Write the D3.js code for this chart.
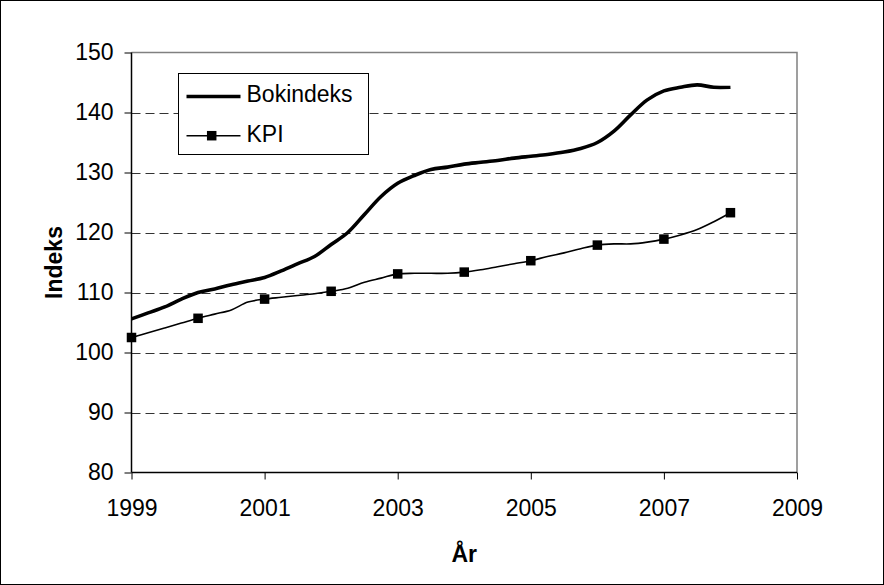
<!DOCTYPE html>
<html>
<head>
<meta charset="utf-8">
<script src="https://cdn.jsdelivr.net/npm/d3@7"></script>
<style>
  html, body { margin: 0; padding: 0; background: #fff; }
  svg text { font-family: "Liberation Sans", Arial, sans-serif; fill: #000; }
</style>
</head>
<body>
<svg id="chart" width="884" height="585"></svg>
<script>
// ---- data ----
const quarters = [
  1999.00, 1999.25, 1999.50, 1999.75,
  2000.00, 2000.25, 2000.50, 2000.75,
  2001.00, 2001.25, 2001.50, 2001.75,
  2002.00, 2002.25, 2002.50, 2002.75,
  2003.00, 2003.25, 2003.50, 2003.75,
  2004.00, 2004.25, 2004.50, 2004.75,
  2005.00, 2005.25, 2005.50, 2005.75,
  2006.00, 2006.25, 2006.50, 2006.75,
  2007.00, 2007.25, 2007.50, 2007.75,
  2008.00
];
const bokindeks = [
  105.6, 106.6, 107.6, 108.9,
  110.0, 110.6, 111.3, 111.9,
  112.5, 113.6, 114.8, 116.0,
  118.0, 120.0, 123.0, 126.0,
  128.2, 129.5, 130.5, 130.9,
  131.4, 131.7, 132.0, 132.4,
  132.7, 133.0, 133.4, 134.0,
  135.0, 136.9, 139.6, 142.1,
  143.6, 144.2, 144.6, 144.2,
  144.2
];
const kpi = [
  102.5, 103.3, 104.1, 104.9,
  105.7, 106.4, 107.1, 108.4,
  108.9, 109.2, 109.5, 109.8,
  110.2, 110.7, 111.7, 112.4,
  113.1, 113.2, 113.2, 113.2,
  113.4, 113.8, 114.3, 114.8,
  115.3, 116.0, 116.6, 117.3,
  117.9, 118.1, 118.1, 118.4,
  118.9, 119.6, 120.5, 121.8,
  123.3
];
const markerYears = [1999, 2000, 2001, 2002, 2003, 2004, 2005, 2006, 2007, 2008];
const xTicks = [1999, 2001, 2003, 2005, 2007, 2009];
const yTicks = [80, 90, 100, 110, 120, 130, 140, 150];
const seriesNames = ["Bokindeks", "KPI"];
const xTitle = "År";
const yTitle = "Indeks";

// ---- layout ----
const svg = d3.select("#chart");
const pL = 131.5, pR = 797, pT = 52.5, pB = 472.5;
const FONT = 23;

const x = d3.scaleLinear().domain([1999, 2009]).range([pL, pR]);
const y = d3.scaleLinear().domain([80, 150]).range([pB, pT]);

// outer border
svg.append("rect").attr("x", 0.5).attr("y", 0.5).attr("width", 883).attr("height", 584)
  .attr("fill", "#fff").attr("stroke", "#000").attr("stroke-width", 1);

// gridlines (dashed)
svg.append("g").selectAll("line").data(yTicks.filter(d => d > 80 && d < 150)).join("line")
  .attr("x1", pL).attr("x2", pR)
  .attr("y1", d => Math.round(y(d)) + 0.5).attr("y2", d => Math.round(y(d)) + 0.5)
  .attr("stroke", "#333").attr("stroke-width", 1).attr("stroke-dasharray", "9,5");

// plot area border top/right (gray)
svg.append("path")
  .attr("d", `M${pL},${pT}H${pR}V${pB}`)
  .attr("fill", "none").attr("stroke", "#808080").attr("stroke-width", 1.5);

// axes
const yAxis = d3.axisLeft(y).tickValues(yTicks).tickSize(7).tickPadding(11).tickFormat(d3.format("d"));
const gy = svg.append("g").attr("transform", `translate(${pL},0)`).call(yAxis);
const xAxis = d3.axisBottom(x).tickValues(xTicks).tickSize(7).tickPadding(20).tickFormat(d3.format("d"));
const gx = svg.append("g").attr("transform", `translate(0,${pB})`).call(xAxis);
[gy, gx].forEach(g => {
  g.select(".domain").attr("stroke", "#000").attr("stroke-width", 1.5);
  g.selectAll(".tick line").attr("stroke", "#000").attr("stroke-width", 1);
  g.selectAll(".tick text").attr("font-size", FONT).attr("font-family", "Liberation Sans, Arial, sans-serif").attr("fill", "#000");
});
gy.select(".domain").attr("d", `M0,${pT}V${pB}`);
gx.select(".domain").attr("d", `M${pL},0H${pR}`);

// axis titles
svg.append("text").attr("x", (pL + pR) / 2).attr("y", 561.5)
  .attr("text-anchor", "middle").attr("font-size", FONT).attr("font-weight", "bold").text(xTitle);
svg.append("text").attr("transform", `translate(62,${(pT + pB) / 2}) rotate(-90)`)
  .attr("text-anchor", "middle").attr("font-size", FONT).attr("font-weight", "bold").text(yTitle);

// lines
const bokData = quarters.map((t, i) => ({ t, v: bokindeks[i] }));
const kpiData = quarters.map((t, i) => ({ t, v: kpi[i] }));
const line = d3.line().x(d => x(d.t)).y(d => y(d.v)).curve(d3.curveCatmullRom.alpha(0.5));

svg.append("path").datum(kpiData).attr("d", line)
  .attr("fill", "none").attr("stroke", "#000").attr("stroke-width", 1.6);
svg.append("path").datum(bokData).attr("d", line)
  .attr("fill", "none").attr("stroke", "#000").attr("stroke-width", 3.6).attr("stroke-linejoin", "round");

// markers
const MS = 9.5;
svg.append("g").selectAll("rect").data(kpiData.filter(d => markerYears.includes(d.t))).join("rect")
  .attr("x", d => x(d.t) - MS / 2).attr("y", d => y(d.v) - MS / 2)
  .attr("width", MS).attr("height", MS).attr("fill", "#000");

// legend
const lg = svg.append("g");
lg.append("rect").attr("x", 178.5).attr("y", 73.5).attr("width", 190).attr("height", 81)
  .attr("fill", "#fff").attr("stroke", "#000").attr("stroke-width", 1);
lg.append("line").attr("x1", 186.5).attr("x2", 240.5).attr("y1", 96.5).attr("y2", 96.5)
  .attr("stroke", "#000").attr("stroke-width", 3.6);
lg.append("text").attr("x", 246.5).attr("y", 101.7).attr("font-size", FONT).text(seriesNames[0]);
lg.append("line").attr("x1", 186.5).attr("x2", 240.5).attr("y1", 135.7).attr("y2", 135.7)
  .attr("stroke", "#000").attr("stroke-width", 1.6);
lg.append("rect").attr("x", 211.7 - MS / 2).attr("y", 135.7 - MS / 2).attr("width", MS).attr("height", MS).attr("fill", "#000");
lg.append("text").attr("x", 246.5).attr("y", 142.3).attr("font-size", FONT).text(seriesNames[1]);
</script>
</body>
</html>
